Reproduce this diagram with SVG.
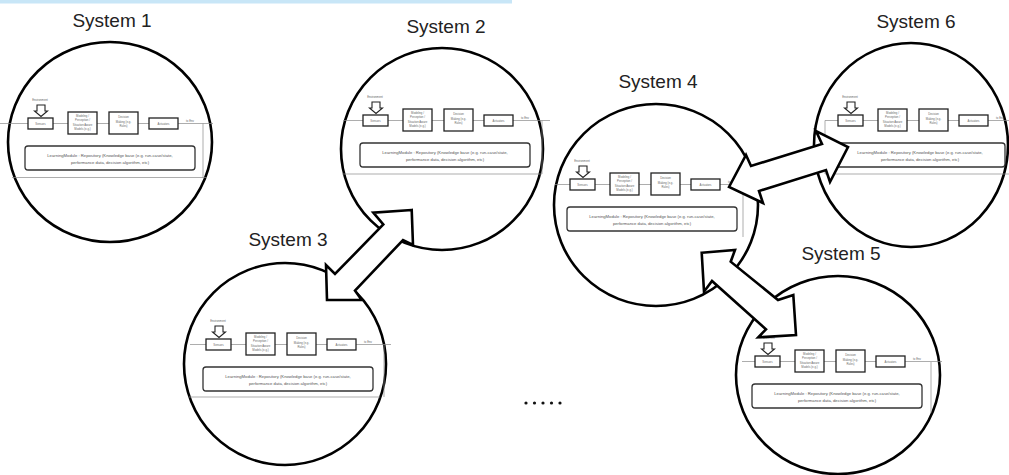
<svg xmlns="http://www.w3.org/2000/svg" width="1009" height="475" viewBox="0 0 1009 475">
<style>
.circ{fill:none;stroke:#000;stroke-width:2.6}
.lbl{font-family:"Liberation Sans",Arial,sans-serif;font-size:19px;fill:#222;text-anchor:middle}
.bx{fill:#fff;stroke:#222;stroke-width:1.3}
.lbx{fill:#fff;stroke:#333;stroke-width:1.3}
.ln{stroke:#8a8a8a;stroke-width:0.7;fill:none}
.tiny{font-family:"Liberation Sans",Arial,sans-serif;font-size:2.8px;fill:#666;text-anchor:middle}
.lt{font-family:"Liberation Sans",Arial,sans-serif;font-size:4.2px;fill:#555;text-anchor:middle}
.ha{fill:#fff;stroke:#222;stroke-width:1.1}
.blk{fill:#fff;stroke:#000;stroke-width:2.6;stroke-linejoin:miter}
</style>
<rect x="0" y="0" width="512" height="3.5" fill="#c8e6f7"/>

<g id="system1">
<ellipse class="circ" cx="110" cy="142" rx="102" ry="100"/>
<text class="lbl" x="112" y="27">System 1</text>
<g transform="translate(28,118)">
<line class="ln" x1="-28" y1="5.5" x2="0" y2="5.5"/><line class="ln" x1="25" y1="5.5" x2="40" y2="5.5"/><line class="ln" x1="69" y1="5.5" x2="81" y2="5.5"/><line class="ln" x1="110" y1="5.5" x2="121" y2="5.5"/><line class="ln" x1="150" y1="5.5" x2="185" y2="5.5"/>
<line class="ln" x1="175" y1="5.5" x2="175" y2="59.5"/><line class="ln" x1="-16" y1="59.5" x2="179" y2="59.5"/>
<text class="tiny" x="12" y="-17">Environment</text>
<path class="ha" d="M9,-13 H17 V-7 H19.5 L13,-1.5 L6.5,-7 H9 Z"/>
<rect class="bx" x="0" y="0" width="25" height="11"/><text class="tiny" x="12.5" y="6.5">Sensors</text>
<rect class="bx" x="40" y="-6" width="29" height="22"/><text class="tiny" x="54.5" y="-1.5">Modeling /</text><text class="tiny" x="54.5" y="3">Perception /</text><text class="tiny" x="54.5" y="7.5">Situation Aware</text><text class="tiny" x="54.5" y="12">Models (e.g.)</text>
<rect class="bx" x="81" y="-6" width="29" height="22"/><text class="tiny" x="95.5" y="0">Decision</text><text class="tiny" x="95.5" y="4.5">Making (e.g.</text><text class="tiny" x="95.5" y="9">Rules)</text>
<rect class="bx" x="121" y="0" width="29" height="11"/><text class="tiny" x="135.5" y="6.5">Actuators</text>
<text class="tiny" x="162" y="4">to Env</text>
<rect class="lbx" x="-3" y="28" width="170" height="24" rx="3"/>
<text class="lt" x="82" y="38.5">LearningModule : Repository (Knowledge base (e.g. run-case/state,</text><text class="lt" x="82" y="45.5">performance data, decision algorithm, etc)</text>
</g>
</g>

<g id="system2">
<ellipse class="circ" cx="442" cy="149" rx="101" ry="101"/>
<text class="lbl" x="446" y="33">System 2</text>
<g transform="translate(363,115)">
<line class="ln" x1="-20" y1="5.5" x2="0" y2="5.5"/><line class="ln" x1="25" y1="5.5" x2="40" y2="5.5"/><line class="ln" x1="69" y1="5.5" x2="81" y2="5.5"/><line class="ln" x1="110" y1="5.5" x2="121" y2="5.5"/><line class="ln" x1="150" y1="5.5" x2="187" y2="5.5"/>
<line class="ln" x1="179" y1="5.5" x2="179" y2="59"/><line class="ln" x1="-21" y1="59" x2="179" y2="59"/>
<text class="tiny" x="12" y="-17">Environment</text>
<path class="ha" d="M9,-13 H17 V-7 H19.5 L13,-1.5 L6.5,-7 H9 Z"/>
<rect class="bx" x="0" y="0" width="25" height="11"/><text class="tiny" x="12.5" y="6.5">Sensors</text>
<rect class="bx" x="40" y="-6" width="29" height="22"/><text class="tiny" x="54.5" y="-1.5">Modeling /</text><text class="tiny" x="54.5" y="3">Perception /</text><text class="tiny" x="54.5" y="7.5">Situation Aware</text><text class="tiny" x="54.5" y="12">Models (e.g.)</text>
<rect class="bx" x="81" y="-6" width="29" height="22"/><text class="tiny" x="95.5" y="0">Decision</text><text class="tiny" x="95.5" y="4.5">Making (e.g.</text><text class="tiny" x="95.5" y="9">Rules)</text>
<rect class="bx" x="121" y="0" width="29" height="11"/><text class="tiny" x="135.5" y="6.5">Actuators</text>
<text class="tiny" x="162" y="4">to Env</text>
<rect class="lbx" x="-3" y="28" width="170" height="24" rx="3"/>
<text class="lt" x="82" y="38.5">LearningModule : Repository (Knowledge base (e.g. run-case/state,</text><text class="lt" x="82" y="45.5">performance data, decision algorithm, etc)</text>
</g>
</g>

<g id="system3">
<ellipse class="circ" cx="285" cy="364" rx="101" ry="101"/>
<text class="lbl" x="288" y="246">System 3</text>
<g transform="translate(206,339)">
<line class="ln" x1="-16" y1="5.5" x2="0" y2="5.5"/><line class="ln" x1="25" y1="5.5" x2="40" y2="5.5"/><line class="ln" x1="69" y1="5.5" x2="81" y2="5.5"/><line class="ln" x1="110" y1="5.5" x2="121" y2="5.5"/><line class="ln" x1="150" y1="5.5" x2="185" y2="5.5"/>
<line class="ln" x1="178" y1="5.5" x2="178" y2="58"/><line class="ln" x1="-17" y1="58" x2="174" y2="58"/>
<text class="tiny" x="12" y="-17">Environment</text>
<path class="ha" d="M9,-13 H17 V-7 H19.5 L13,-1.5 L6.5,-7 H9 Z"/>
<rect class="bx" x="0" y="0" width="25" height="11"/><text class="tiny" x="12.5" y="6.5">Sensors</text>
<rect class="bx" x="40" y="-6" width="29" height="22"/><text class="tiny" x="54.5" y="-1.5">Modeling /</text><text class="tiny" x="54.5" y="3">Perception /</text><text class="tiny" x="54.5" y="7.5">Situation Aware</text><text class="tiny" x="54.5" y="12">Models (e.g.)</text>
<rect class="bx" x="81" y="-6" width="29" height="22"/><text class="tiny" x="95.5" y="0">Decision</text><text class="tiny" x="95.5" y="4.5">Making (e.g.</text><text class="tiny" x="95.5" y="9">Rules)</text>
<rect class="bx" x="121" y="0" width="29" height="11"/><text class="tiny" x="135.5" y="6.5">Actuators</text>
<text class="tiny" x="162" y="4">to Env</text>
<rect class="lbx" x="-3" y="28" width="170" height="24" rx="3"/>
<text class="lt" x="82" y="38.5">LearningModule : Repository (Knowledge base (e.g. run-case/state,</text><text class="lt" x="82" y="45.5">performance data, decision algorithm, etc)</text>
</g>
</g>

<g id="system4">
<ellipse class="circ" cx="656" cy="205" rx="102" ry="101"/>
<text class="lbl" x="658" y="88">System 4</text>
<g transform="translate(570,179)">
<line class="ln" x1="-15" y1="5.5" x2="0" y2="5.5"/><line class="ln" x1="25" y1="5.5" x2="40" y2="5.5"/><line class="ln" x1="69" y1="5.5" x2="81" y2="5.5"/><line class="ln" x1="110" y1="5.5" x2="121" y2="5.5"/><line class="ln" x1="150" y1="5.5" x2="175" y2="5.5"/>
<line class="ln" x1="173" y1="0" x2="173" y2="58"/>
<text class="tiny" x="12" y="-17">Environment</text>
<path class="ha" d="M9,-13 H17 V-7 H19.5 L13,-1.5 L6.5,-7 H9 Z"/>
<rect class="bx" x="0" y="0" width="25" height="11"/><text class="tiny" x="12.5" y="6.5">Sensors</text>
<rect class="bx" x="40" y="-6" width="29" height="22"/><text class="tiny" x="54.5" y="-1.5">Modeling /</text><text class="tiny" x="54.5" y="3">Perception /</text><text class="tiny" x="54.5" y="7.5">Situation Aware</text><text class="tiny" x="54.5" y="12">Models (e.g.)</text>
<rect class="bx" x="81" y="-6" width="29" height="22"/><text class="tiny" x="95.5" y="0">Decision</text><text class="tiny" x="95.5" y="4.5">Making (e.g.</text><text class="tiny" x="95.5" y="9">Rules)</text>
<rect class="bx" x="121" y="0" width="29" height="11"/><text class="tiny" x="135.5" y="6.5">Actuators</text>
<text class="tiny" x="162" y="4">to Env</text>
<rect class="lbx" x="-3" y="28" width="170" height="24" rx="3"/>
<text class="lt" x="82" y="38.5">LearningModule : Repository (Knowledge base (e.g. run-case/state,</text><text class="lt" x="82" y="45.5">performance data, decision algorithm, etc)</text>
</g>
</g>

<g id="system5">
<ellipse class="circ" cx="838" cy="375" rx="102" ry="99"/>
<text class="lbl" x="841" y="260">System 5</text>
<g transform="translate(755,356)">
<line class="ln" x1="-13" y1="5.5" x2="0" y2="5.5"/><line class="ln" x1="25" y1="5.5" x2="40" y2="5.5"/><line class="ln" x1="69" y1="5.5" x2="81" y2="5.5"/><line class="ln" x1="110" y1="5.5" x2="121" y2="5.5"/><line class="ln" x1="150" y1="5.5" x2="187" y2="5.5"/>
<line class="ln" x1="176" y1="6" x2="176" y2="57"/>
<text class="tiny" x="12" y="-17">Environment</text>
<path class="ha" d="M9,-13 H17 V-7 H19.5 L13,-1.5 L6.5,-7 H9 Z"/>
<rect class="bx" x="0" y="0" width="25" height="11"/><text class="tiny" x="12.5" y="6.5">Sensors</text>
<rect class="bx" x="40" y="-6" width="29" height="22"/><text class="tiny" x="54.5" y="-1.5">Modeling /</text><text class="tiny" x="54.5" y="3">Perception /</text><text class="tiny" x="54.5" y="7.5">Situation Aware</text><text class="tiny" x="54.5" y="12">Models (e.g.)</text>
<rect class="bx" x="81" y="-6" width="29" height="22"/><text class="tiny" x="95.5" y="0">Decision</text><text class="tiny" x="95.5" y="4.5">Making (e.g.</text><text class="tiny" x="95.5" y="9">Rules)</text>
<rect class="bx" x="121" y="0" width="29" height="11"/><text class="tiny" x="135.5" y="6.5">Actuators</text>
<text class="tiny" x="162" y="4">to Env</text>
<rect class="lbx" x="-3" y="28" width="170" height="24" rx="3"/>
<text class="lt" x="82" y="38.5">LearningModule : Repository (Knowledge base (e.g. run-case/state,</text><text class="lt" x="82" y="45.5">performance data, decision algorithm, etc)</text>
</g>
</g>

<g id="system6">
<ellipse class="circ" cx="911" cy="145" rx="97" ry="102"/>
<text class="lbl" x="916" y="28">System 6</text>
<g transform="translate(838,115)">
<line class="ln" x1="-13" y1="5.5" x2="0" y2="5.5"/><line class="ln" x1="25" y1="5.5" x2="40" y2="5.5"/><line class="ln" x1="69" y1="5.5" x2="81" y2="5.5"/><line class="ln" x1="110" y1="5.5" x2="121" y2="5.5"/><line class="ln" x1="150" y1="5.5" x2="171" y2="5.5"/>
<line class="ln" x1="-13" y1="5.5" x2="-13" y2="59"/><line class="ln" x1="-13" y1="59" x2="171" y2="59"/>
<text class="tiny" x="12" y="-17">Environment</text>
<path class="ha" d="M9,-13 H17 V-7 H19.5 L13,-1.5 L6.5,-7 H9 Z"/>
<rect class="bx" x="0" y="0" width="25" height="11"/><text class="tiny" x="12.5" y="6.5">Sensors</text>
<rect class="bx" x="40" y="-6" width="29" height="22"/><text class="tiny" x="54.5" y="-1.5">Modeling /</text><text class="tiny" x="54.5" y="3">Perception /</text><text class="tiny" x="54.5" y="7.5">Situation Aware</text><text class="tiny" x="54.5" y="12">Models (e.g.)</text>
<rect class="bx" x="81" y="-6" width="29" height="22"/><text class="tiny" x="95.5" y="0">Decision</text><text class="tiny" x="95.5" y="4.5">Making (e.g.</text><text class="tiny" x="95.5" y="9">Rules)</text>
<rect class="bx" x="121" y="0" width="29" height="11"/><text class="tiny" x="135.5" y="6.5">Actuators</text>
<text class="tiny" x="162" y="4">to Env</text>
<rect class="lbx" x="-3" y="28" width="170" height="24" rx="3"/>
<text class="lt" x="82" y="38.5">LearningModule : Repository (Knowledge base (e.g. run-case/state,</text><text class="lt" x="82" y="45.5">performance data, decision algorithm, etc)</text>
</g>
</g>

<g id="connectors">
<path class="blk" d="M411.7,210 L373.3,212.7 L383.3,224.5 L335,274 L326,265 L327,300 L361.7,300 L355,290.7 L403,240 L413,245 Z"/>
<path class="blk" d="M729,187 L746,155 L751,166 L822,144 L816,131 L848,147 L830,182 L826,170 L759,191 L763,203 Z"/>
<path class="blk" d="M701.7,252.7 L735,250 L730.7,261.7 L778,300 L793.3,295 L796,335 L758.3,337.3 L766,329.3 L712,281 L704,291.7 Z"/>
</g>

<g id="ellipsis" fill="#111">
<circle cx="526" cy="403" r="1.6"/><circle cx="534.5" cy="403" r="1.6"/><circle cx="543" cy="403" r="1.6"/><circle cx="551.5" cy="403" r="1.6"/><circle cx="560" cy="403" r="1.6"/>
</g>
</svg>
